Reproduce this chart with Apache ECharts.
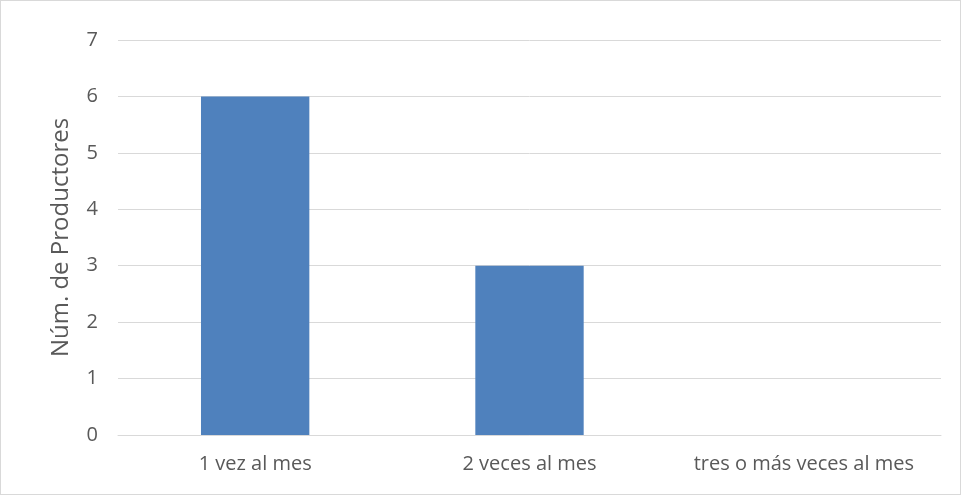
<!DOCTYPE html>
<html><head><meta charset="utf-8">
<script src="https://cdn.jsdelivr.net/npm/echarts@6/dist/echarts.min.js"></script>
<style>html,body{margin:0;padding:0;background:#fff}#c{width:961px;height:495px;box-sizing:border-box;border:1px solid #d9d9d9}</style>
</head><body><div id="c"></div>
<script>
const categories = ['1 vez al mes', '2 veces al mes', 'tres o más veces al mes'];
const values = [6, 3, 0];
const yTicks = {min: 0, max: 7, interval: 1};
const yName = 'Núm. de Productores';

const chart = echarts.init(document.getElementById('c'), null, {renderer: 'canvas'});
chart.setOption({
  animation: false,
  textStyle: {fontFamily: 'Open Sans'},
  grid: {left: 117, right: 19, top: 39, bottom: 59, containLabel: false},
  xAxis: {
    type: 'category', data: categories,
    axisLine: {lineStyle: {color: '#d9d9d9'}},
    axisTick: {show: false},
    axisLabel: {color: '#595959', fontSize: 20, margin: 19, interval: 0, hideOverlap: false}
  },
  yAxis: {
    type: 'value', min: yTicks.min, max: yTicks.max, interval: yTicks.interval,
    name: yName, nameLocation: 'middle', nameGap: 45, nameRotate: 90,
    nameTextStyle: {color: '#595959', fontSize: 24},
    axisLine: {show: false}, axisTick: {show: false},
    axisLabel: {color: '#595959', fontSize: 20, margin: 20},
    splitLine: {lineStyle: {color: '#d9d9d9'}}
  },
  series: [{type: 'bar', data: values, barWidth: '39.5%', itemStyle: {color: '#4f81bd'}}]
});
</script></body></html>
